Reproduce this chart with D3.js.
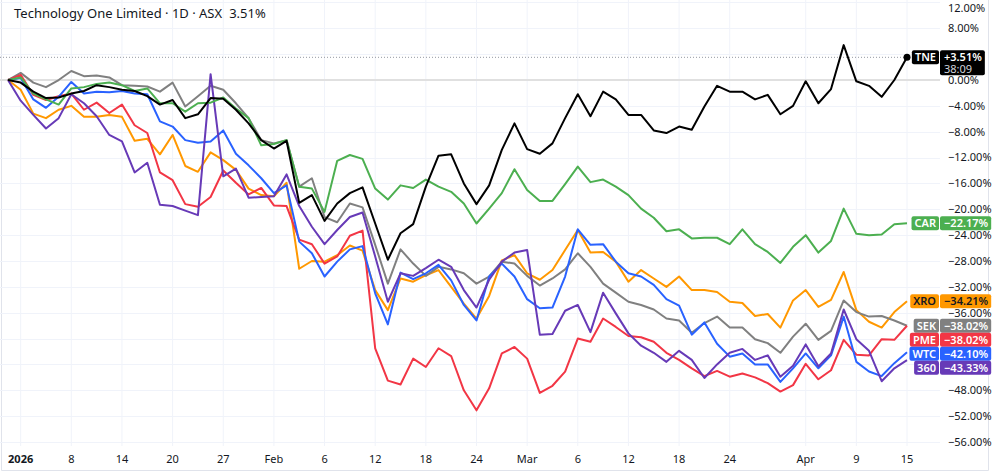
<!DOCTYPE html>
<html>
<head>
<meta charset="utf-8">
<script src="https://cdn.jsdelivr.net/npm/d3@7"></script>
<title>TNE vs peers</title>
<style>
  body { margin: 0; background: #fff; }
  svg text { font-family: "Noto Sans", sans-serif; fill: #131722; }
</style>
</head>
<body>
<svg id="chart" width="1000" height="476"></svg>
<script>
// trading days shown on the chart (ASX, Dec 31 -> Apr 15)
var days = ["2025-12-31","2026-01-02","2026-01-05","2026-01-06","2026-01-07","2026-01-08","2026-01-09",
  "2026-01-12","2026-01-13","2026-01-14","2026-01-15","2026-01-16","2026-01-19","2026-01-20","2026-01-21",
  "2026-01-22","2026-01-23","2026-01-27","2026-01-28","2026-01-29","2026-01-30","2026-02-02","2026-02-03",
  "2026-02-04","2026-02-05","2026-02-06","2026-02-09","2026-02-10","2026-02-11","2026-02-12","2026-02-13",
  "2026-02-16","2026-02-17","2026-02-18","2026-02-19","2026-02-20","2026-02-23","2026-02-24","2026-02-25",
  "2026-02-26","2026-02-27","2026-03-02","2026-03-03","2026-03-04","2026-03-05","2026-03-06","2026-03-09",
  "2026-03-10","2026-03-11","2026-03-12","2026-03-13","2026-03-16","2026-03-17","2026-03-18","2026-03-19",
  "2026-03-20","2026-03-23","2026-03-24","2026-03-25","2026-03-26","2026-03-27","2026-03-30","2026-03-31",
  "2026-04-01","2026-04-02","2026-04-07","2026-04-08","2026-04-09","2026-04-10","2026-04-13","2026-04-14","2026-04-15"];

var tickDays = ["2026-01-02","2026-01-08","2026-01-14","2026-01-20","2026-01-27","2026-02-02","2026-02-06",
  "2026-02-12","2026-02-18","2026-02-24","2026-03-02","2026-03-06","2026-03-12","2026-03-18","2026-03-24",
  "2026-04-01","2026-04-09","2026-04-15"];
var tickLabels = ["2026","8","14","20","27","Feb","6","12","18","24","Mar","6","12","18","24","Apr","9","15"];

var yTicks = [12, 8, 4, 0, -4, -8, -12, -16, -20, -24, -28, -32, -36, -40, -44, -48, -52, -56];

var symbols = ["XRO", "SEK", "PME", "WTC", "360", "CAR", "TNE"];

var tne = [0,-0.4,-1.8,-2.8,-2.7,-2.1,-1.7,-0.8,-1.1,-1.5,-1.7,-2.5,-3.8,-3.1,-5.9,-5.3,-2.8,-2.9,-4.6,-6.7,
  -9.3,-10.6,-9.4,-19.0,-17.8,-21.8,-19.1,-17.5,-16.6,-22.2,-27.8,-23.7,-22.3,-16.5,-11.7,-11.5,-16.0,-19.2,
  -16.3,-10.8,-6.7,-10.7,-11.4,-9.8,-5.9,-2.2,-5.6,-1.8,-3.0,-5.4,-5.4,-7.8,-8.2,-7.2,-7.7,-4.1,-0.9,-1.8,
  -1.8,-3.0,-2.3,-5.3,-4.0,-0.2,-3.6,-1.4,5.4,-0.2,-0.9,-2.6,0.0,3.51];
var car = [0,0.4,-2.1,-3.0,-3.8,-1.3,-1.1,-0.6,-0.4,-0.8,-1.7,-1.3,-3.6,-3.6,-4.9,-3.6,-3.5,-2.7,-4.4,-5.9,
  -10.1,-9.9,-9.3,-16.5,-16.8,-20.4,-12.5,-11.6,-12.2,-16.8,-18.5,-16.3,-16.7,-15.4,-16.5,-17.3,-19.1,-22.2,
  -19.9,-17.5,-13.8,-17.0,-18.7,-18.7,-16.1,-13.4,-15.8,-15.4,-16.5,-17.8,-19.9,-21.3,-23.4,-23.1,-24.5,-24.4,
  -24.4,-25.4,-23.1,-25.4,-26.6,-28.3,-25.8,-24.0,-26.7,-24.9,-19.9,-23.8,-24.0,-23.9,-22.3,-22.17];
var xro = [0,-1.5,-5.2,-5.9,-4.6,-4.0,-5.7,-5.7,-5.4,-5.7,-9.4,-9.1,-11.5,-8.5,-13.3,-14.2,-11.2,-12.4,-13.9,
  -16.8,-17.8,-18.0,-15.9,-29.2,-28.0,-28.1,-27.1,-25.6,-26.4,-32.5,-35.6,-30.7,-31.2,-30.2,-29.4,-32.0,-34.6,
  -36.9,-33.4,-27.9,-27.1,-29.9,-30.9,-29.4,-26.3,-23.2,-26.7,-26.6,-28.1,-31.2,-29.4,-30.7,-32.0,-30.4,-32.5,
  -32.5,-32.8,-34.3,-34.5,-36.5,-36.2,-38.3,-34.1,-32.5,-35.1,-34.0,-29.7,-35.6,-37.4,-38.3,-35.9,-34.21];
var sek = [0,1.1,-0.4,-1.1,0,1.4,0.6,0.7,0.4,-0.8,-0.9,-1.0,-1.8,-0.4,-4.1,-2.5,-0.9,-1.5,-3.6,-5.9,-9.3,-9.8,
  -9.3,-16.5,-15.2,-21.2,-22.0,-19.1,-19.7,-25.5,-31.5,-26.2,-28.4,-30.3,-28.9,-29.3,-29.9,-31.5,-30.4,-28.1,
  -28.4,-30.3,-31.8,-30.7,-29.3,-26.8,-28.9,-31.5,-32.9,-34.3,-34.8,-35.5,-36.9,-37.2,-39.1,-37.6,-36.6,-38.3,
  -38.3,-40.1,-40.7,-42.2,-39.7,-37.7,-40.2,-38.8,-34.1,-35.9,-36.6,-36.5,-37.2,-38.02];
var pme = [0,0.8,-2.3,-3.1,-2.5,-2.1,-4.6,-3.5,-5.1,-3.8,-7.0,-8.2,-14.3,-15.5,-19.2,-19.6,-18.1,-14.0,-15.9,
  -17.7,-16.7,-19.4,-19.5,-24.7,-25.4,-28.4,-27.3,-24.1,-23.3,-41.5,-46.5,-47.1,-43.1,-44.4,-41.5,-42.7,-48.0,
  -51.1,-47.7,-42.3,-41.3,-43.1,-48.4,-47.3,-45.1,-40.0,-40.5,-36.9,-38.2,-39.6,-39.8,-40.5,-42.2,-43.3,-44.6,
  -45.8,-45.0,-45.9,-45.4,-46.0,-46.9,-48.2,-47.2,-43.9,-46.3,-44.9,-40.2,-42.5,-42.6,-40.1,-40.2,-38.02];
var wtc = [0,0.3,-3.0,-4.3,-2.6,-0.3,-2.1,-1.8,-1.9,-1.7,-2.1,-2.2,-6.4,-7.2,-9.3,-9.7,-9.5,-7.8,-11.4,-13.2,
  -15.2,-17.5,-16.3,-25.0,-26.8,-30.4,-28.1,-26.2,-25.7,-33.0,-37.8,-29.8,-30.8,-29.9,-28.6,-31.0,-34.8,-37.2,
  -30.4,-28.4,-30.4,-33.9,-35.3,-35.2,-30.4,-23.1,-25.5,-25.4,-28.1,-29.9,-30.4,-31.7,-33.9,-34.9,-39.4,-37.5,
  -40.8,-42.8,-42.3,-44.0,-44.0,-46.7,-44.6,-42.3,-44.6,-42.6,-36.6,-43.6,-45.1,-45.8,-43.8,-42.10];
var s360 = [0,-3.2,-5.4,-7.5,-5.9,-2.2,-3.6,-5.6,-8.5,-9.5,-14.3,-12.8,-19.3,-19.5,-20.2,-20.9,0.9,-14.9,-13.7,
  -18.2,-18.1,-18.0,-14.6,-19.5,-22.7,-25.4,-23.2,-21.2,-20.5,-27.3,-34.3,-29.9,-30.3,-29.1,-27.8,-28.9,-32.5,
  -35.2,-30.9,-28.1,-26.7,-26.3,-39.4,-39.3,-35.7,-34.8,-39.0,-32.9,-36.1,-39.2,-41.1,-42.2,-43.6,-41.9,-43.3,
  -46.1,-44.0,-42.2,-41.6,-43.3,-42.6,-45.9,-44.2,-40.9,-44.3,-42.3,-35.5,-40.1,-41.9,-46.6,-44.6,-43.33];

var seriesValues = { XRO: xro, SEK: sek, PME: pme, WTC: wtc, "360": s360, CAR: car, TNE: tne };
var colors = { XRO: "#ff9800", SEK: "#808080", PME: "#f23645", WTC: "#2962ff", "360": "#673ab7", CAR: "#4caf50", TNE: "#000000" };
var textColors = { XRO: "#131722" };

var svg = d3.select("#chart");
var plotRight = 940, plotBottom = 446;

var x = d3.scalePoint().domain(days).range([8, 907]);
var y = d3.scaleLinear().domain([-56, 8]).range([442, 28.3]);

// frame
svg.append("path")
  .attr("d", "M1.5,0V470.5H988.5V0")
  .attr("fill", "none").attr("stroke", "#e0e3eb").attr("stroke-width", 1);

// grid
svg.append("g").selectAll("line").data(tickDays).enter().append("line")
  .attr("x1", function(d){ return x(d); }).attr("x2", function(d){ return x(d); })
  .attr("y1", 0).attr("y2", plotBottom)
  .attr("stroke", "#f0f3fa").attr("stroke-width", 1);

svg.append("g").selectAll("line").data(yTicks.filter(function(t){ return t !== 0; })).enter().append("line")
  .attr("x1", 0).attr("x2", plotRight)
  .attr("y1", function(d){ return Math.round(y(d)) + 0.5; }).attr("y2", function(d){ return Math.round(y(d)) + 0.5; })
  .attr("stroke", "#f0f3fa").attr("stroke-width", 1);

// zero line
svg.append("line").attr("x1", 0).attr("x2", plotRight)
  .attr("y1", y(0)).attr("y2", y(0))
  .attr("stroke", "#e0e0e0").attr("stroke-width", 2);

// right-side label positions (stacked so they don't collide)
var fmtLast = d3.format("+.2f");
var items = symbols.map(function(s){
  var v = seriesValues[s];
  return { name: s, last: v[v.length - 1] };
}).sort(function(a, b){ return b.last - a.last; });

var boxH = 14, prevBottom = -Infinity;
items.forEach(function(d){
  var cy = Math.max(y(d.last), prevBottom + boxH / 2);
  d.cy = cy;
  d.top = cy - boxH / 2;
  d.bottom = cy + boxH / 2 + (d.name === "TNE" ? 11 : 0);
  prevBottom = d.bottom;
});

// y axis labels (the ones hidden behind a label box are skipped)
var fmtAxis = d3.format(".2f");
var visibleTicks = yTicks.filter(function(t){
  var ty = y(t);
  return !items.some(function(d){ return ty + 4 > d.top && ty - 4 < d.bottom; });
});
svg.append("g").selectAll("text").data(visibleTicks).enter().append("text")
  .attr("x", 948).attr("y", function(d){ return Math.max(y(d), 8); })
  .attr("dy", "0.35em")
  .attr("font-size", 11)
  .text(function(d){ return fmtAxis(d) + "%"; });

// x axis labels
svg.append("g").selectAll("text").data(tickDays).enter().append("text")
  .attr("x", function(d){ return x(d); }).attr("y", 459)
  .attr("dy", "0.35em")
  .attr("text-anchor", "middle")
  .attr("font-size", 11)
  .attr("font-weight", function(d, i){ return tickLabels[i] === "2026" ? 700 : 400; })
  .text(function(d, i){ return tickLabels[i]; });

// dotted line at TNE's last value
var tneLast = tne[tne.length - 1];
svg.append("line").attr("x1", 0).attr("x2", x(days[days.length - 1]))
  .attr("y1", y(tneLast)).attr("y2", y(tneLast))
  .attr("stroke", "#9598a1").attr("stroke-width", 1).attr("stroke-dasharray", "1,2");

// lines
var line = d3.line()
  .x(function(d, i){ return x(days[i]); })
  .y(function(d){ return y(d); });

symbols.forEach(function(s){
  svg.append("path")
    .datum(seriesValues[s])
    .attr("fill", "none")
    .attr("stroke", colors[s])
    .attr("stroke-width", 2)
    .attr("stroke-linejoin", "round")
    .attr("d", line);
});

svg.append("circle")
  .attr("cx", x(days[days.length - 1])).attr("cy", y(tneLast))
  .attr("r", 3.5).attr("fill", "#000");

// title
var title = svg.append("text").attr("x", 14).attr("y", 18).attr("font-size", 13);
title.append("tspan").text("Technology One Limited · 1D · ASX");
title.append("tspan").attr("dx", 7).text("3.51%");

// label boxes
var labels = svg.append("g");
items.forEach(function(d){
  var g = labels.append("g");
  var tc = textColors[d.name] || "#fff";
  var nameText = g.append("text").attr("x", 936).attr("y", d.cy).attr("dy", "0.35em")
    .attr("text-anchor", "end").attr("font-size", 11).attr("font-weight", 600)
    .style("fill", tc).text(d.name);
  var nw = nameText.node().getComputedTextLength();
  var valStr = (d.last > 0 ? "+" : "") + fmtLast(d.last).replace("+", "") + "%";
  var valText = g.append("text").attr("x", 944).attr("y", d.cy).attr("dy", "0.35em")
    .attr("font-size", 11).attr("font-weight", 600).style("fill", tc).text(valStr);
  var vw = valText.node().getComputedTextLength();
  g.insert("rect", "text").attr("x", 939 - nw - 6).attr("y", d.top)
    .attr("width", nw + 6).attr("height", boxH).attr("rx", 2).attr("fill", colors[d.name]);
  g.insert("rect", "text").attr("x", 940).attr("y", d.top)
    .attr("width", vw + 7).attr("height", d.bottom - d.top).attr("rx", 2).attr("fill", colors[d.name]);
  if (d.name === "TNE") {
    g.append("text").attr("x", 944).attr("y", d.cy + 12).attr("dy", "0.35em")
      .attr("font-size", 11).style("fill", "#d1d4dc").text("38:09");
  }
});
</script>
</body>
</html>
